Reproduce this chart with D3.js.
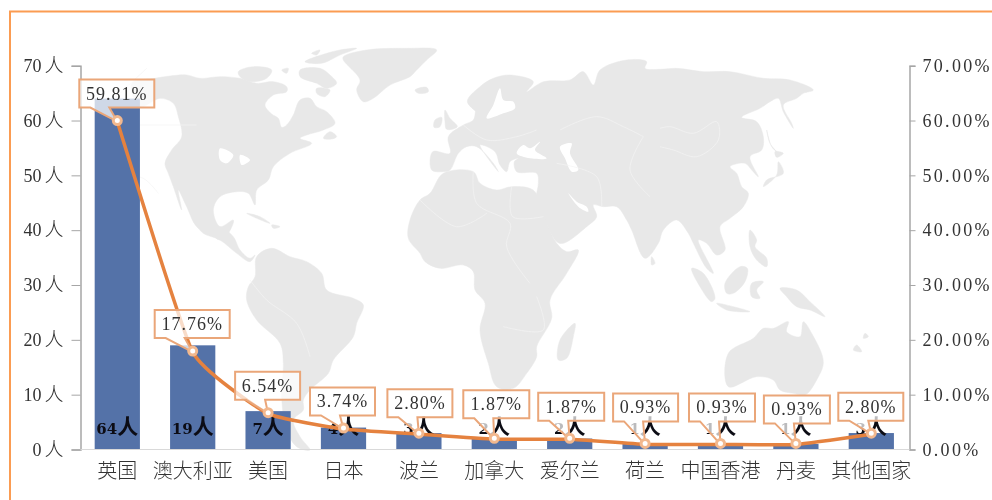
<!DOCTYPE html>
<html><head><meta charset="utf-8">
<script src="https://cdn.jsdelivr.net/npm/d3@7/dist/d3.min.js"></script>
<style>
html,body{margin:0;padding:0;background:#fff;overflow:hidden}
svg{display:block;filter:blur(0.45px)}
</style></head><body>
<svg id="c" width="992" height="500"></svg>
<script>
// ---- chart data ----
const categories = ["英国","澳大利亚","美国","日本","波兰","加拿大","爱尔兰","荷兰","中国香港","丹麦","其他国家"];
const counts = [64,19,7,4,3,2,2,1,1,1,3];
const shares = [59.81,17.76,6.54,3.74,2.80,1.87,1.87,0.93,0.93,0.93,2.80];
const countTicks = [0,10,20,30,40,50,60,70];
const shareTicks = [0,10,20,30,40,50,60,70];

// ---- callout box placement relative to its point: dx, dy, width ----
const calloutLayout = [[-38,-42,75],[-38,-42,75],[-33,-42,65],[-33.5,-41.5,65],[-31.5,-45,65],[-31,-49,66],[-31.5,-46.5,66],[-32,-51,65],[-31.5,-51,66],[-32,-49,66],[-33,-41.5,65]];

// ---- decorative world-map silhouette: origin + 3x scaled outline points ----
const mapAmericas = [140,40,[
 [[-25,130],[45,115],[90,108],[140,105],[180,115],[240,110],[300,115],[350,130],[400,125],[440,140],[440,155],[400,165],[375,195],[395,222],[415,235],[425,262],[440,255],[460,225],[480,180],[510,175],[530,200],[560,215],[585,250],[550,270],[500,285],[480,295],[515,310],[450,340],[400,380],[385,420],[350,450],[345,495],[325,460],[290,455],[240,470],[220,510],[240,560],[280,540],[265,580],[240,600],[215,585],[170,560],[140,500],[115,450],[125,510],[100,440],[85,400],[75,370],[95,330],[125,290],[115,230],[100,190],[60,175],[0,200]],
 [[610,50],[680,30],[800,25],[890,30],[860,60],[830,90],[810,110],[750,135],[700,175],[670,185],[650,150],[660,120],[610,60]],
 [[295,95],[340,80],[395,90],[380,115],[330,125],[300,110]],[[425,90],[445,85],[440,100]],
 [[480,90],[540,85],[570,105],[590,130],[560,145],[530,130],[480,110]],
 [[495,65],[560,40],[600,30],[650,25],[600,45],[545,70]],[[515,40],[540,30],[530,45]],
 [[530,145],[570,150],[555,170],[530,160]],[[550,295],[570,275],[590,290],[575,297]],
 [[825,150],[860,142],[865,155],[835,160]],[[320,520],[360,530],[390,550],[350,535]],[[395,555],[420,560],[400,565]]
]];
const mapSouth = [140,230,[
 [[175,-10],[240,-10],[280,20],[300,60],[330,85],[345,75],[330,95],[290,70],[240,30],[190,10]],
 [[350,80],[395,55],[450,80],[500,95],[545,130],[560,180],[640,205],[670,225],[650,280],[640,320],[580,390],[565,430],[510,480],[490,510],[490,540],[460,570],[480,620],[510,660],[470,650],[440,600],[425,500],[430,400],[420,340],[350,270],[320,210],[325,170],[345,140]]
]];
const mapOldWorld = [330,30,[
 [[412,215],[450,170],[490,145],[540,135],[610,155],[590,185],[640,155],[720,150],[760,125],[790,165],[810,120],[890,90],[950,95],[945,115],[990,118],[1040,115],[1120,125],[1200,125],[1300,145],[1380,150],[1450,180],[1420,190],[1400,205],[1360,225],[1385,280],[1390,295],[1360,245],[1345,205],[1320,215],[1290,235],[1235,262],[1280,275],[1300,320],[1295,360],[1260,380],[1285,440],[1265,420],[1245,400],[1200,410],[1220,430],[1235,470],[1255,490],[1240,530],[1200,565],[1170,590],[1185,660],[1160,675],[1130,640],[1105,630],[1150,730],[1130,715],[1090,640],[1075,610],[1040,570],[1000,600],[985,640],[945,685],[905,600],[890,570],[860,530],[820,530],[790,525],[800,560],[770,590],[700,640],[680,635],[640,560],[620,500],[625,460],[620,430],[560,425],[553,395],[565,385],[540,395],[530,425],[510,405],[495,365],[450,345],[505,425],[490,400],[440,350],[410,350],[385,370],[360,420],[340,425],[305,420],[308,365],[360,370],[355,320],[400,285],[430,270],[440,235],[455,255]],
 [[340,430],[430,425],[450,460],[500,480],[545,470],[612,482],[650,580],[680,640],[710,665],[745,660],[710,730],[660,810],[665,865],[620,950],[620,980],[590,1030],[550,1075],[500,1070],[475,1000],[450,900],[465,820],[435,780],[430,725],[400,705],[330,715],[285,695],[270,670],[235,625],[240,570],[270,510],[300,490]],
 [[735,880],[730,920],[710,985],[685,990],[690,930]],
 [[345,240],[360,265],[382,290],[350,298],[345,275]],[[315,270],[335,262],[330,290],[312,292]],
 [[965,680],[975,700],[965,705]],
 [[1310,300],[1320,340],[1340,365],[1325,350]],[[1335,365],[1360,370],[1340,382]],[[1345,395],[1360,430],[1310,450],[1300,470],[1340,435]],
 [[1085,715],[1120,730],[1155,805],[1145,815],[1110,770]],[[1160,820],[1210,830],[1260,845],[1190,840]],
 [[1185,760],[1230,710],[1252,715],[1245,755],[1210,790],[1190,790]],[[1265,760],[1300,755],[1280,780],[1290,805],[1265,800]],
 [[1260,600],[1280,630],[1275,650],[1310,685],[1310,710],[1280,690],[1260,650]],
 [[1350,775],[1400,780],[1440,815],[1485,860],[1440,840],[1400,830],[1370,800]],
 [[1195,970],[1270,925],[1300,895],[1330,895],[1375,875],[1370,905],[1410,920],[1420,875],[1445,910],[1480,995],[1460,1050],[1425,1095],[1390,1090],[1350,1080],[1330,1050],[1280,1040],[1195,1070]],
 [[1580,945],[1595,965],[1570,960]],[[1605,910],[1615,920],[1600,925]]
]];
const mapBorders = [330,30,[
 [[-610,285],[-400,285]],[[-550,115],[-630,190]],[[-630,435],[-560,445],[-515,490]],
 [[690,300],[800,260],[880,290],[940,320]],[[990,295],[1020,290],[1090,310],[1160,275],[1165,330],[1100,380],[1030,360],[990,350]],
 [[545,470],[548,560],[640,560]],[[430,425],[440,520],[540,580],[530,650],[600,760]],[[270,510],[380,590],[470,550]],
 [[400,285],[470,330],[560,320],[620,300]],[[680,400],[800,440],[815,530]],[[940,320],[900,420],[960,500]],
 [[-240,750],[-190,810],[-100,880],[-60,980]],[[520,890],[640,900],[620,800]]
]];
const mapWater = [330,30,[
 [[690,350],[725,340],[720,370],[745,420],[725,425],[705,385]],
 [[560,370],[580,345],[600,355],[630,335],[615,360],[650,385],[600,385]],
 [[470,265],[490,225],[510,175],[520,210],[550,215],[555,235],[520,250]],
 [[715,490],[740,515],[770,530],[775,545],[745,530]],
 [[-330,355],[-290,375],[-310,400],[-330,390]],[[-270,375],[-240,390],[-265,405]]
]];

// ---- drawing ----
const svg = d3.select("#c");
const ORANGE="#e5823f";
const x = d3.scaleBand().domain(categories).range([79.6,909]).paddingInner(0.4).paddingOuter(0.2);
const yL = d3.scaleLinear().domain([0,70]).range([449.5,65.7]);
const yR = d3.scaleLinear().domain([0,70]).range([449.5,65.7]);
const cx = i => x(categories[i]) + x.bandwidth()/2;

// frame
svg.append("path").attr("d","M10,500V11.5H992").attr("fill","none").attr("stroke","#fb9c52").attr("stroke-width",2);

// map
const mapLine = d3.line().curve(d3.curveCatmullRomClosed.alpha(0.5));
const openLine = d3.line().curve(d3.curveCatmullRom.alpha(0.5));
const place = ([ox,oy,polys]) => polys.map(p => p.map(([a,b]) => [ox+a/3, oy+b/3]));
const land = svg.append("g").style("filter","blur(0.5px)");
[mapAmericas,mapSouth,mapOldWorld].forEach(m => {
  land.selectAll(null).data(place(m)).join("path").attr("d",mapLine)
    .attr("fill","#e8e8e8").attr("stroke","#e8e8e8").attr("stroke-width",0.5);
});
land.selectAll(null).data(place(mapWater)).join("path").attr("d",mapLine).attr("fill","#fff");
land.selectAll(null).data(place(mapBorders)).join("path").attr("d",openLine)
  .attr("fill","none").attr("stroke","#f4f4f4").attr("stroke-width",0.7);

// bars
svg.append("g").selectAll("rect").data(counts).join("rect")
  .attr("x",(d,i)=>x(categories[i])).attr("width",x.bandwidth())
  .attr("y",d=>yL(d)).attr("height",d=>yL(0)-yL(d)).attr("fill","#5472a8");

// axes
const FONT = '"Liberation Serif","Noto Sans CJK SC",serif';
const styleAxis = g => {
  g.selectAll("text").attr("fill","#333").style("font-family",FONT);
  g.selectAll("line,path").attr("stroke","#a6a6a6");
  g.select(".domain").attr("stroke-width",1.5);
};
svg.append("g").attr("transform","translate(80.5,0)")
  .call(d3.axisLeft(yL).tickValues(countTicks).tickSize(9).tickPadding(8).tickSizeOuter(9).tickFormat(d=>d))
  .call(styleAxis)
  .call(g=>g.selectAll("text").text(null).each(function(d){
    const t=d3.select(this).style("font-size","18px");
    t.append("tspan").text(d);
    t.append("tspan").attr("dx",3).style("font-size","19px").style("font-weight",300).text("人");
  }));
svg.append("g").attr("transform","translate(909.5,0)")
  .call(d3.axisRight(yR).tickValues(shareTicks).tickSize(6).tickPadding(7).tickSizeOuter(6).tickFormat(d=>d.toFixed(2)+"%"))
  .call(styleAxis)
  .call(g=>g.selectAll("text").style("font-size","18px").style("letter-spacing","2.3px"));
svg.append("line").attr("x1",80.5).attr("x2",909.5).attr("y1",yL(0)).attr("y2",yL(0)).attr("stroke","#d9d9d9").attr("stroke-width",1.2);

// category labels
svg.append("g").attr("transform","translate(0,449.5)")
  .call(d3.axisBottom(x).tickSize(0).tickPadding(14))
  .call(g=>g.select(".domain").remove())
  .call(g=>g.selectAll("text").attr("fill","#333").style("font-family",'"Noto Sans CJK SC"').style("font-size","20px").style("font-weight",300));

// bar value labels
const vl = svg.append("g").selectAll("text").data(counts).join("text")
  .attr("x",(d,i)=>cx(i)).attr("y",434).attr("text-anchor","middle").attr("fill","#0c0c14");
vl.each(function(d){
  const t=d3.select(this);
  t.append("tspan").style("font-family",'"DejaVu Serif",serif').style("font-size","15px").style("font-weight",700).text(d);
  t.append("tspan").style("font-family",'"Noto Sans CJK SC"').style("font-size","21px").style("font-weight",700).text("人");
});

// line
svg.append("path").datum(shares)
  .attr("d",d3.line().x((d,i)=>cx(i)).y(d=>yR(d)).curve(d3.curveCardinal.tension(0.6)))
  .attr("fill","none").attr("stroke",ORANGE).attr("stroke-width",3.5);

// callouts
const callouts = svg.append("g").selectAll("g").data(shares).join("g");
callouts.append("path").attr("d",(d,i)=>{
  const px=cx(i),py=yR(d),[dx,dy,w]=calloutLayout[i],l=px+dx,t=py+dy,h=28,b=t+h,r=l+w;
  return `M${l},${t}H${r}V${b}H${l+30}L${px},${py}L${l+11},${b}H${l}Z`;
}).attr("fill","#fff").attr("fill-opacity",0.72).attr("stroke","#eaa679").attr("stroke-width",2);
callouts.append("text").attr("x",(d,i)=>cx(i)+calloutLayout[i][0]+calloutLayout[i][2]/2)
  .attr("y",(d,i)=>yR(d)+calloutLayout[i][1]+20).attr("text-anchor","middle")
  .attr("fill","#333").style("font-family",FONT).style("font-size","18px").style("letter-spacing","1px")
  .text(d=>d.toFixed(2)+"%");

// markers
svg.append("g").selectAll("circle").data(shares).join("circle")
  .attr("cx",(d,i)=>cx(i)).attr("cy",d=>yR(d)-1).attr("r",4)
  .attr("fill","#fff").attr("stroke","#f2b88e").attr("stroke-width",3);
</script></body></html>
